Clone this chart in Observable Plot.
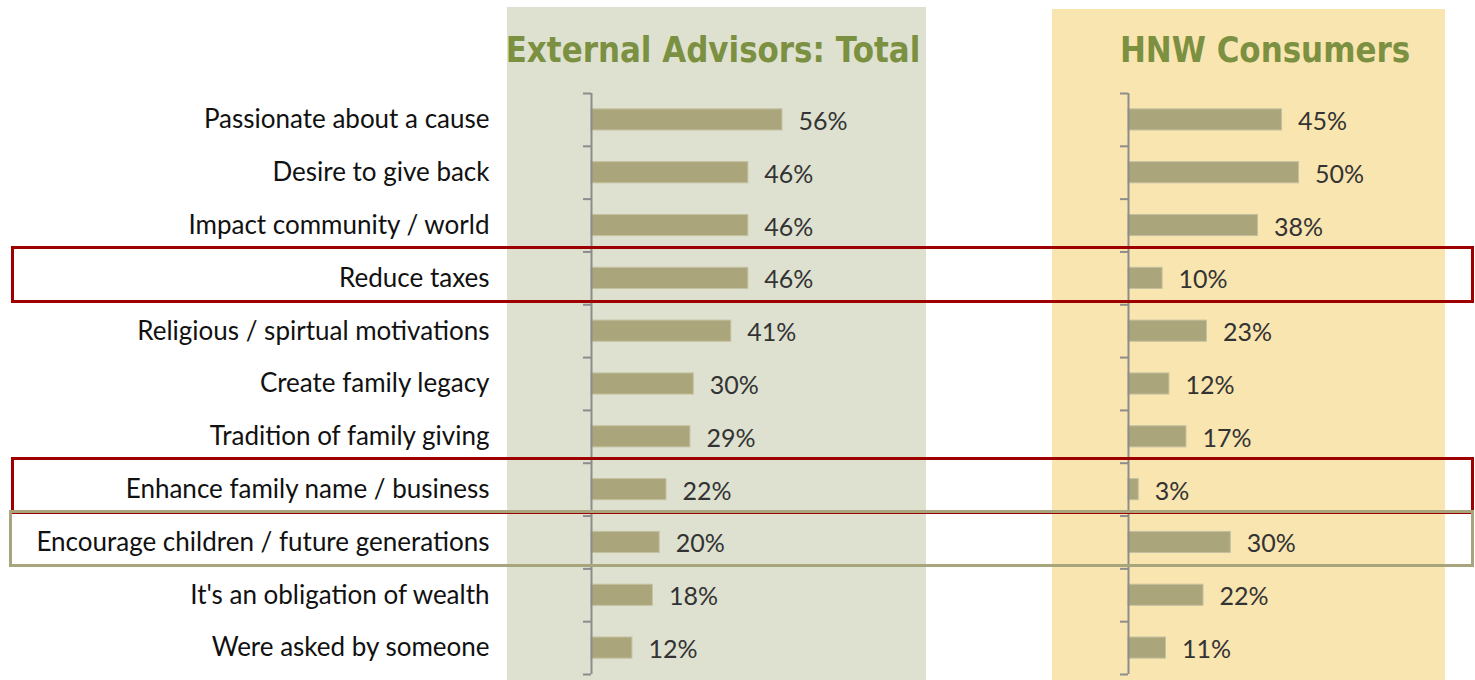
<!DOCTYPE html>
<html>
<head>
<meta charset="utf-8">
<script src="https://cdn.jsdelivr.net/npm/d3@7"></script>
<script src="https://cdn.jsdelivr.net/npm/@observablehq/plot@0.6"></script>
<style>
  html, body { margin: 0; padding: 0; background: #ffffff; }
  #wrap { position: relative; width: 1475px; height: 680px; overflow: hidden; background: #fff; }
  .bg { position: absolute; }
  .title { position: absolute; font-family: "DejaVu Sans", sans-serif; font-weight: bold; color: #7b9040; white-space: nowrap; transform: translateX(-50%) scaleX(0.86); transform-origin: 50% 0; }
  .plot { position: absolute; top: 0; }
  .box { position: absolute; box-sizing: border-box; }
</style>
</head>
<body>
<div id="wrap"></div>
<script>
const categories = [
  "Passionate about a cause",
  "Desire to give back",
  "Impact community / world",
  "Reduce taxes",
  "Religious / spirtual motivations",
  "Create family legacy",
  "Tradition of family giving",
  "Enhance family name / business",
  "Encourage children / future generations",
  "It's an obligation of wealth",
  "Were asked by someone"
];
const advisors  = [56, 46, 46, 46, 41, 30, 29, 22, 20, 18, 12];
const consumers = [45, 50, 38, 10, 23, 12, 17, 3, 30, 22, 11];
const titles = ["External Advisors: Total", "HNW Consumers"];
const highlights = [
  {category: "Reduce taxes", color: "#9e0000"},
  {category: "Enhance family name / business", color: "#9e0000"},
  {category: "Encourage children / future generations", color: "#a8a47b"}
];

const wrap = document.getElementById("wrap");
const n = categories.length;
const bounds = d3.range(n + 1).map(i => i - 0.5);

function panel(values, showLabels, width, marginLeft) {
  const rows = categories.map((c, i) => ({c, i, v: values[i]}));
  const marks = [
    Plot.rectX(rows, {x1: 0, x2: "v", y1: d => d.i - 0.2, y2: d => d.i + 0.2, fill: "#aaa57b", stroke: "#c4c1a0", strokeWidth: 1}),
    Plot.ruleX([0], {stroke: "#8c8c8c", strokeWidth: 2}),
    Plot.axisY(bounds, {tickSize: 8, tickFormat: () => "", stroke: "#8c8c8c", strokeWidth: 2, label: null}),
    Plot.text(rows, {x: "v", y: "i", text: d => `${d.v}%`, dx: 16, dy: 2, textAnchor: "start", fontSize: 25, fill: "#333333"})
  ];
  if (showLabels) {
    marks.push(Plot.text(rows, {x: 0, y: "i", text: "c", dx: -102, textAnchor: "end", fontSize: 26, fill: "#111111"}));
  }
  return Plot.plot({
    width, height: 680,
    marginLeft, marginRight: 0, marginTop: 93, marginBottom: 6,
    x: {domain: [0, 100], axis: null},
    y: {domain: [n - 0.5, -0.5], axis: null},
    style: {background: "transparent", fontFamily: "Lato, 'Open Sans', sans-serif", overflow: "visible"},
    marks
  });
}

function addDiv(cls, css, text) {
  const d = document.createElement("div");
  d.className = cls;
  Object.assign(d.style, css);
  if (text) d.textContent = text;
  wrap.appendChild(d);
  return d;
}

// panel backgrounds
addDiv("bg", {left: "507px", top: "7px", width: "419px", height: "673px", background: "#dee1d0"});
addDiv("bg", {left: "1052px", top: "9px", width: "393px", height: "671px", background: "#f9e5b0"});

// titles
addDiv("title", {left: "713px", top: "29px", fontSize: "36px"}, titles[0]);
addDiv("title", {left: "1265px", top: "29px", fontSize: "36px"}, titles[1]);

const left = panel(advisors, true, 932, 591);
left.classList.add("plot");
left.style.left = "0px";
wrap.appendChild(left);

const right = panel(consumers, false, 429, 88);
right.classList.add("plot");
right.style.left = "1040px";
wrap.appendChild(right);

// highlight boxes, positioned with the chart's own y scale
const ys = left.scale("y");
for (const h of highlights) {
  const i = categories.indexOf(h.category);
  const top = ys.apply(i - 0.6);
  const bottom = ys.apply(i + 0.48);
  const x0 = h.color === "#9e0000" ? 11 : 9;
  addDiv("box", {
    left: x0 + "px",
    top: top + "px",
    width: (1474 - x0) + "px",
    height: (bottom - top) + "px",
    border: `3px solid ${h.color}`
  });
}
</script>
</body>
</html>
